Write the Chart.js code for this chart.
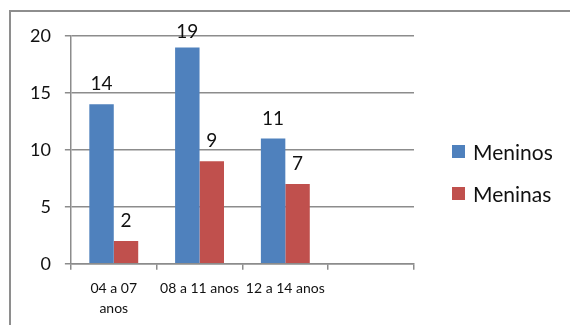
<!DOCTYPE html>
<html>
<head>
<meta charset="utf-8">
<script src="https://cdn.jsdelivr.net/npm/chart.js@4.4.1/dist/chart.umd.min.js"></script>
<style>
  html, body { margin: 0; padding: 0; background: #fff; overflow: hidden; }
  #wrap { position: relative; width: 570px; height: 325px; overflow: hidden; }
  #frame {
    position: absolute; left: 9px; top: 10px; width: 600px; height: 400px;
    border: 2px solid #8e8e8e; box-sizing: border-box;
  }
  #grafico { position: absolute; left: 0; top: 0; }
  #legenda {
    position: absolute; left: 452px; top: 139px;
    font-family: Lato, sans-serif; font-size: 21px; color: #111;
  }
  #legenda .item { height: 42px; display: flex; align-items: flex-start; }
  #legenda .cor { width: 13px; height: 13px; margin-top: 6px; margin-right: 8px; }
</style>
</head>
<body>
<div id="wrap">
  <div id="frame"></div>
  <canvas id="grafico" width="570" height="331"></canvas>
  <div id="legenda"></div>
</div>
<script>
// faixas etárias (a primeira quebra em duas linhas)
const faixas = [['04 a 07', 'anos'], '08 a 11 anos', '12 a 14 anos', ''];
const meninos = [14, 19, 11, null];
const meninas = [2, 9, 7, null];
const series = ['Meninos', 'Meninas'];
const cores = ['#4f81bd', '#c0504d'];
const yTicks = [0, 5, 10, 15, 20];

const cinza = '#8c8c8c';

// escreve o valor em cima de cada barra
const valores = {
  id: 'valores',
  afterDatasetsDraw(chart) {
    const ctx = chart.ctx;
    const area = chart.chartArea;
    ctx.save();
    ctx.font = '19px Lato, sans-serif';
    ctx.fillStyle = '#111';
    ctx.textAlign = 'center';
    ctx.textBaseline = 'alphabetic';
    chart.data.datasets.forEach((ds, i) => {
      chart.getDatasetMeta(i).data.forEach((bar, j) => {
        const v = ds.data[j];
        if (v == null) return;
        const y = Math.max(bar.y - 14, area.top + 2);
        ctx.fillText(String(v), bar.x, y);
      });
    });
    ctx.restore();
  }
};

const chart = new Chart(document.getElementById('grafico'), {
  type: 'bar',
  data: {
    labels: faixas,
    datasets: [
      { label: series[0], data: meninos, backgroundColor: cores[0] },
      { label: series[1], data: meninas, backgroundColor: cores[1] }
    ]
  },
  options: {
    responsive: false,
    animation: false,
    devicePixelRatio: 1,
    layout: { padding: { left: 16, top: 36, right: 156, bottom: 4 } },
    datasets: { bar: { categoryPercentage: 0.57, barPercentage: 1 } },
    plugins: { legend: { display: false }, tooltip: { enabled: false } },
    scales: {
      x: {
        grid: { drawOnChartArea: false, drawTicks: true, tickLength: 6, color: cinza, lineWidth: 1.5 },
        border: { color: cinza, width: 1.5 },
        ticks: {
          color: '#111', font: { family: 'Lato', size: 14, lineHeight: 1.4 },
          padding: 9, maxRotation: 0, autoSkip: false
        }
      },
      y: {
        min: 0, max: 20,
        afterBuildTicks(axis) { axis.ticks = yTicks.map(v => ({ value: v })); },
        grid: { color: cinza, lineWidth: 1.5, tickLength: 6 },
        border: { color: cinza, width: 1.5 },
        ticks: { color: '#111', font: { family: 'Lato', size: 18 }, padding: 14 }
      }
    }
  },
  plugins: [valores]
});

// legenda a partir das séries
const leg = document.getElementById('legenda');
series.forEach((nome, i) => {
  const item = document.createElement('div');
  item.className = 'item';
  item.innerHTML = '<span class="cor" style="background:' + cores[i] + '"></span><span>' + nome + '</span>';
  leg.appendChild(item);
});
</script>
</body>
</html>
